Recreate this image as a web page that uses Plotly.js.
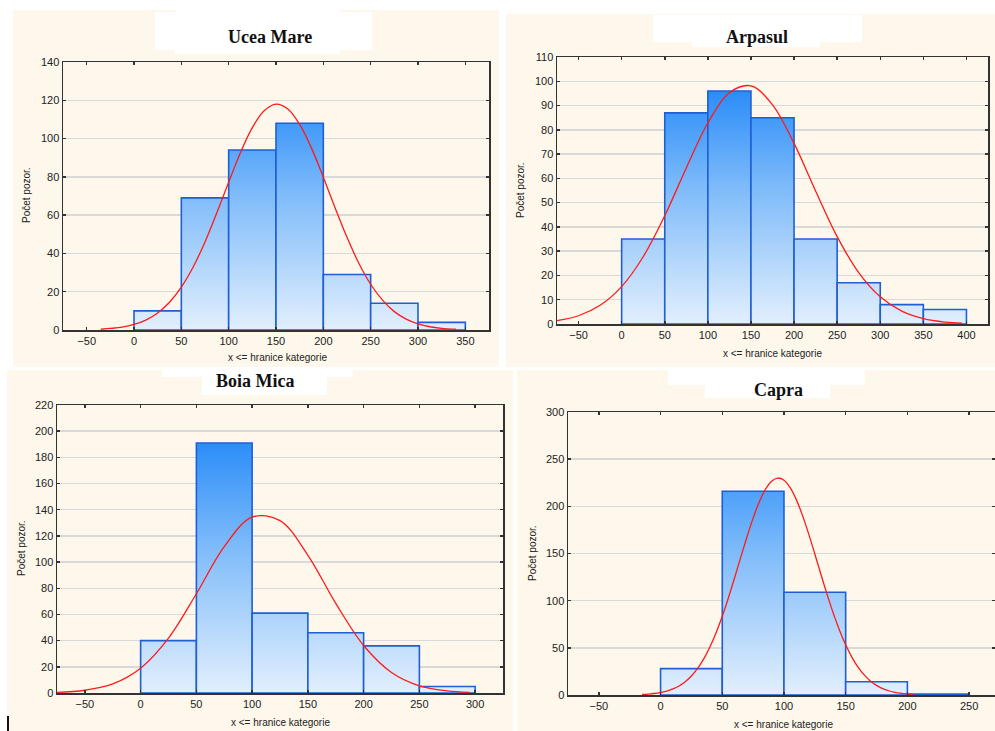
<!DOCTYPE html>
<html>
<head>
<meta charset="utf-8">
<script src="https://cdn.plot.ly/plotly-3.0.1.min.js"></script>
<style>
html,body{margin:0;padding:0;background:#ffffff;}
#chart{width:995px;height:731px;}
</style>
</head>
<body>
<div id="chart"></div>
<script>
// ---------- DATA ----------
const panelTitles = ["Ucea Mare", "Arpasul", "Boia Mica", "Capra"];
const yAxisTitle = "Počet pozor.";
const xAxisTitle = "x <= hranice kategorie";

// Ucea Mare
const uceaBinCenters = [25, 75, 125, 175, 225, 275, 325];
const uceaCounts = [10, 69, 94, 108, 29, 14, 4];
const uceaCurveX = [-35, -25, -12.5, 0, 12.5, 25, 37.5, 50, 62.5, 75, 87.5, 100, 112.5, 125, 137.5, 150, 162.5, 175, 187.5, 200, 212.5, 225, 237.5, 250, 262.5, 275, 287.5, 300, 312.5, 325, 340];
const uceaCurveY = [0.4, 0.8, 1.5, 2.9, 5.2, 8.9, 14.5, 22.4, 32.9, 46.0, 61.2, 77.2, 92.7, 105.7, 114.5, 118.0, 115.5, 107.4, 95.0, 79.8, 63.7, 48.4, 34.9, 23.9, 15.6, 9.6, 5.7, 3.2, 1.7, 0.9, 0.4];

// Arpasul
const arpasulBinCenters = [25, 75, 125, 175, 225, 275, 325, 375];
const arpasulCounts = [35, 87, 96, 85, 35, 17, 8, 6];
const arpasulCurveX = [-75, -50, -25, 0, 25, 50, 75, 100, 125, 150, 175, 200, 225, 250, 275, 300, 325, 350, 375, 395];
const arpasulCurveY = [1.4, 3.4, 7.7, 15.4, 27.7, 44.6, 64.3, 82.8, 95.3, 98.1, 90.3, 74.4, 54.8, 36.0, 21.2, 11.2, 5.3, 2.2, 0.8, 0.4];

// Boia Mica
const boiaBinCenters = [25, 75, 125, 175, 225, 275];
const boiaCounts = [40, 191, 61, 46, 36, 5];
const boiaCurveX = [-75, -50, -25, 0, 25, 50, 75, 100, 125, 150, 175, 200, 225, 250, 275, 295];
const boiaCurveY = [0.5, 2.1, 6.9, 18.9, 41.9, 75.8, 111.8, 134.4, 131.7, 105.2, 68.5, 36.3, 15.7, 5.5, 1.6, 0.5];

// Capra
const capraBinCenters = [25, 75, 125, 175, 225];
const capraCounts = [28, 216, 109, 14, 1];
const capraCurveX = [-15, -10, -5, 0, 5, 10, 15, 20, 25, 30, 35, 40, 45, 50, 55, 60, 65, 70, 75, 80, 85, 90, 95, 100, 105, 110, 115, 120, 125, 130, 135, 140, 145, 150, 155, 160, 165, 170, 175, 180, 185, 190, 195, 200, 205];
const capraCurveY = [0.6, 1.0, 1.6, 2.6, 4.2, 6.4, 9.6, 14.1, 20.1, 28.1, 38.3, 50.9, 66.0, 83.5, 103.1, 124.3, 146.1, 167.5, 187.5, 204.7, 218.1, 226.7, 230.0, 227.6, 219.8, 207.1, 190.4, 170.8, 149.5, 127.7, 106.4, 86.5, 68.7, 53.2, 40.2, 29.6, 21.3, 14.9, 10.2, 6.8, 4.5, 2.8, 1.8, 1.1, 0.6];

const binWidth = 50;

// ---------- LAYOUT HELPERS ----------
const W = 995, H = 731;
const px = x => x / W;
const py = y => 1 - y / H;

const panels = [
  {centers: uceaBinCenters, counts: uceaCounts, cx: uceaCurveX, cy: uceaCurveY,
   box: [63, 62, 489, 330], xr: [-75, 375], yr: [0, 140], ydt: 20,
   title: [270, 37], ytitle: [26, 195], xtitle: [277, 357]},
  {centers: arpasulBinCenters, counts: arpasulCounts, cx: arpasulCurveX, cy: arpasulCurveY,
   box: [557, 57, 988, 324], xr: [-75, 425], yr: [0, 110], ydt: 10,
   title: [757, 37], ytitle: [520, 190], xtitle: [772, 353]},
  {centers: boiaBinCenters, counts: boiaCounts, cx: boiaCurveX, cy: boiaCurveY,
   box: [57, 405, 503, 693], xr: [-75, 325], yr: [0, 220], ydt: 20,
   title: [255, 381], ytitle: [21, 548], xtitle: [280, 722]},
  {centers: capraBinCenters, counts: capraCounts, cx: capraCurveX, cy: capraCurveY,
   box: [568, 412, 995, 695], xr: [-75, 271], yr: [0, 300], ydt: 50,
   title: [778, 390], ytitle: [532, 553], xtitle: [783, 724]}
];

const tickFont = {family: "Liberation Sans, Arial, sans-serif", size: 11, color: "#222"};
const data = [];
const layout = {
  width: W, height: H,
  margin: {l: 0, r: 0, t: 0, b: 0},
  paper_bgcolor: "#ffffff",
  plot_bgcolor: "#ffffff",
  showlegend: false,
  bargap: 0,
  shapes: [],
  annotations: []
};

// cream panel backgrounds
const creams = [[13, 10, 499, 367], [506, 14, 995, 367], [7, 370, 513, 731], [517, 370, 995, 731]];
creams.forEach(c => layout.shapes.push({type: "rect", xref: "paper", yref: "paper", layer: "below",
  x0: px(c[0]), x1: px(c[2]), y0: py(c[3]), y1: py(c[1]), fillcolor: "#fef8ec", line: {width: 0}}));
// white erased areas behind titles
const blobs = [[155, 12, 372, 50], [175, 10, 340, 54], [653, 15, 862, 42], [692, 15, 820, 47],
               [162, 369, 353, 377], [202, 369, 327, 395], [668, 370, 865, 385], [705, 370, 830, 398]];
blobs.forEach(c => layout.shapes.push({type: "rect", xref: "paper", yref: "paper", layer: "below",
  x0: px(c[0]), x1: px(c[2]), y0: py(c[3]), y1: py(c[1]), fillcolor: "#ffffff", line: {width: 0}}));
// small stray mark bottom-left
layout.shapes.push({type: "line", xref: "paper", yref: "paper", layer: "above",
  x0: px(8), x1: px(8), y0: py(731), y1: py(716), line: {color: "#111", width: 2}});

panels.forEach((p, i) => {
  const n = i === 0 ? "" : String(i + 1);
  const xa = "x" + n, ya = "y" + n;
  data.push({type: "bar", x: p.centers, y: p.counts, width: binWidth, xaxis: xa, yaxis: ya,
    marker: {color: "#9cc8f8", line: {color: "#1f5fd6", width: 1.6}}, hoverinfo: "skip"});
  data.push({type: "scatter", mode: "lines", x: p.cx, y: p.cy, xaxis: xa, yaxis: ya,
    line: {color: "#ff1a1a", width: 1.3, shape: "spline", smoothing: 1, simplify: false}, hoverinfo: "skip"});
  layout["xaxis" + n] = {
    domain: [px(p.box[0]), px(p.box[2])], range: p.xr, anchor: ya,
    tickmode: "linear", tick0: 0, dtick: 50,
    showgrid: false, zeroline: false, showline: true, linecolor: "#333", linewidth: 1.5,
    mirror: "ticks", ticks: "inside", ticklen: 3, tickwidth: 1.5, tickcolor: "#333",
    tickfont: tickFont, fixedrange: true
  };
  layout["yaxis" + n] = {
    domain: [py(p.box[3]), py(p.box[1])], range: p.yr, anchor: xa,
    tickmode: "linear", tick0: 0, dtick: p.ydt,
    showgrid: true, gridcolor: "#d9d9d9", gridwidth: 1.5,
    zeroline: false, showline: true, linecolor: "#333", linewidth: 1.5,
    mirror: "ticks", ticks: "inside", ticklen: 3, tickwidth: 1.5, tickcolor: "#333",
    tickfont: tickFont, fixedrange: true
  };
  layout.annotations.push({xref: "paper", yref: "paper", x: px(p.title[0]), y: py(p.title[1]),
    xanchor: "center", yanchor: "middle", showarrow: false, text: "<b>" + panelTitles[i] + "</b>",
    font: {family: "Liberation Serif, Times New Roman, serif", size: 18, color: "#111"}});
  layout.annotations.push({xref: "paper", yref: "paper", x: px(p.ytitle[0]), y: py(p.ytitle[1]),
    xanchor: "center", yanchor: "middle", showarrow: false, textangle: -90, text: yAxisTitle,
    font: {family: "Liberation Sans, Arial, sans-serif", size: 10, color: "#222"}});
  layout.annotations.push({xref: "paper", yref: "paper", x: px(p.xtitle[0]), y: py(p.xtitle[1]),
    xanchor: "center", yanchor: "middle", showarrow: false, text: xAxisTitle.replace("<", "&lt;"),
    font: {family: "Liberation Sans, Arial, sans-serif", size: 10, color: "#222"}});
});

Plotly.newPlot("chart", data, layout, {staticPlot: true, displayModeBar: false}).then(gd => {
  const NS = "http://www.w3.org/2000/svg";
  const svg = gd.querySelector(".main-svg");
  let defs = svg.querySelector("defs");
  if (!defs) { defs = document.createElementNS(NS, "defs"); svg.insertBefore(defs, svg.firstChild); }
  ["xy", "x2y2", "x3y3", "x4y4"].forEach((sp, i) => {
    const yax = gd._fullLayout[i === 0 ? "yaxis" : "yaxis" + (i + 1)];
    const h = yax._length;
    const id = "barGrad" + i;
    const lg = document.createElementNS(NS, "linearGradient");
    lg.setAttribute("id", id);
    lg.setAttribute("gradientUnits", "userSpaceOnUse");
    lg.setAttribute("x1", "0"); lg.setAttribute("x2", "0");
    lg.setAttribute("y1", String(h)); lg.setAttribute("y2", "0");
    [["0", "rgb(226,239,253)"], ["0.5", "rgb(128,188,250)"], ["1", "rgb(14,125,248)"]].forEach(s => {
      const st = document.createElementNS(NS, "stop");
      st.setAttribute("offset", s[0]); st.setAttribute("stop-color", s[1]);
      lg.appendChild(st);
    });
    defs.appendChild(lg);
    gd.querySelectorAll(".subplot." + sp + " .barlayer path").forEach(path => {
      path.style.fill = "url(#" + id + ")";
      path.style.fillOpacity = "1";
    });
  });
});
</script>
</body>
</html>
